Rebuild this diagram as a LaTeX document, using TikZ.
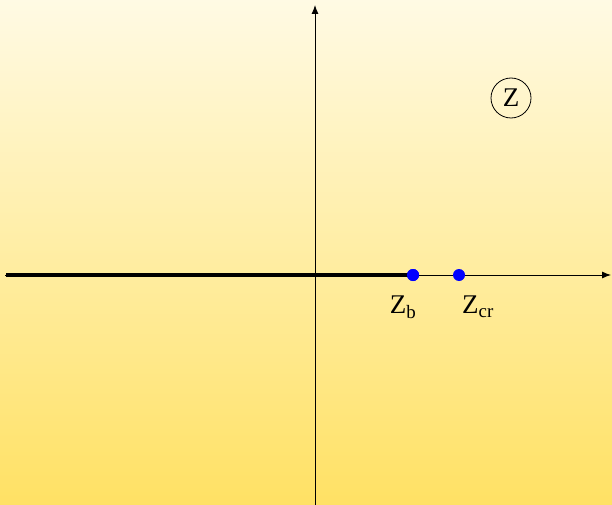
\documentclass[tikz,border=0pt]{standalone}
\usepackage{fontspec}
\setmainfont{Liberation Serif}
\usetikzlibrary{arrows.meta}
\begin{document}
\begin{tikzpicture}[x=1pt,y=-1pt,
  axis/.style={line width=0.9pt,-{Latex[length=9pt,width=7pt]}},
  dot/.style={circle,fill=blue,inner sep=0pt,minimum size=12pt},
  lbl/.style={font=\fontsize{27}{27}\selectfont,inner sep=0pt}]
\shade[top color={rgb,255:red,255;green,250;blue,228}, bottom color={rgb,255:red,255;green,225;blue,100}] (0,0) rectangle (612,505);
\useasboundingbox (0,0) rectangle (612,505);
\coordinate (xs) at (5,275);
\coordinate (xe) at (611,275);
\coordinate (ys) at (315,505);
\coordinate (ye) at (315,5);
\draw[axis] (xs) -- (xe);
\draw[axis] (ys) -- (ye);
\node[dot] (zb) at (413,275) {};
\node[dot] (zcr) at (459,275) {};
\draw[line width=4pt] (6,275) -- (zb.center);
\node[dot] at (413,275) {};
\node[lbl] (lb) at (403,307) {Z\textsubscript{b}};
\node[lbl] (lcr) at (478,307) {Z\textsubscript{cr}};
\node[lbl,circle,draw,line width=0.8pt,minimum size=40pt] (zz) at (511,98) {Z};
\end{tikzpicture}
\end{document}
